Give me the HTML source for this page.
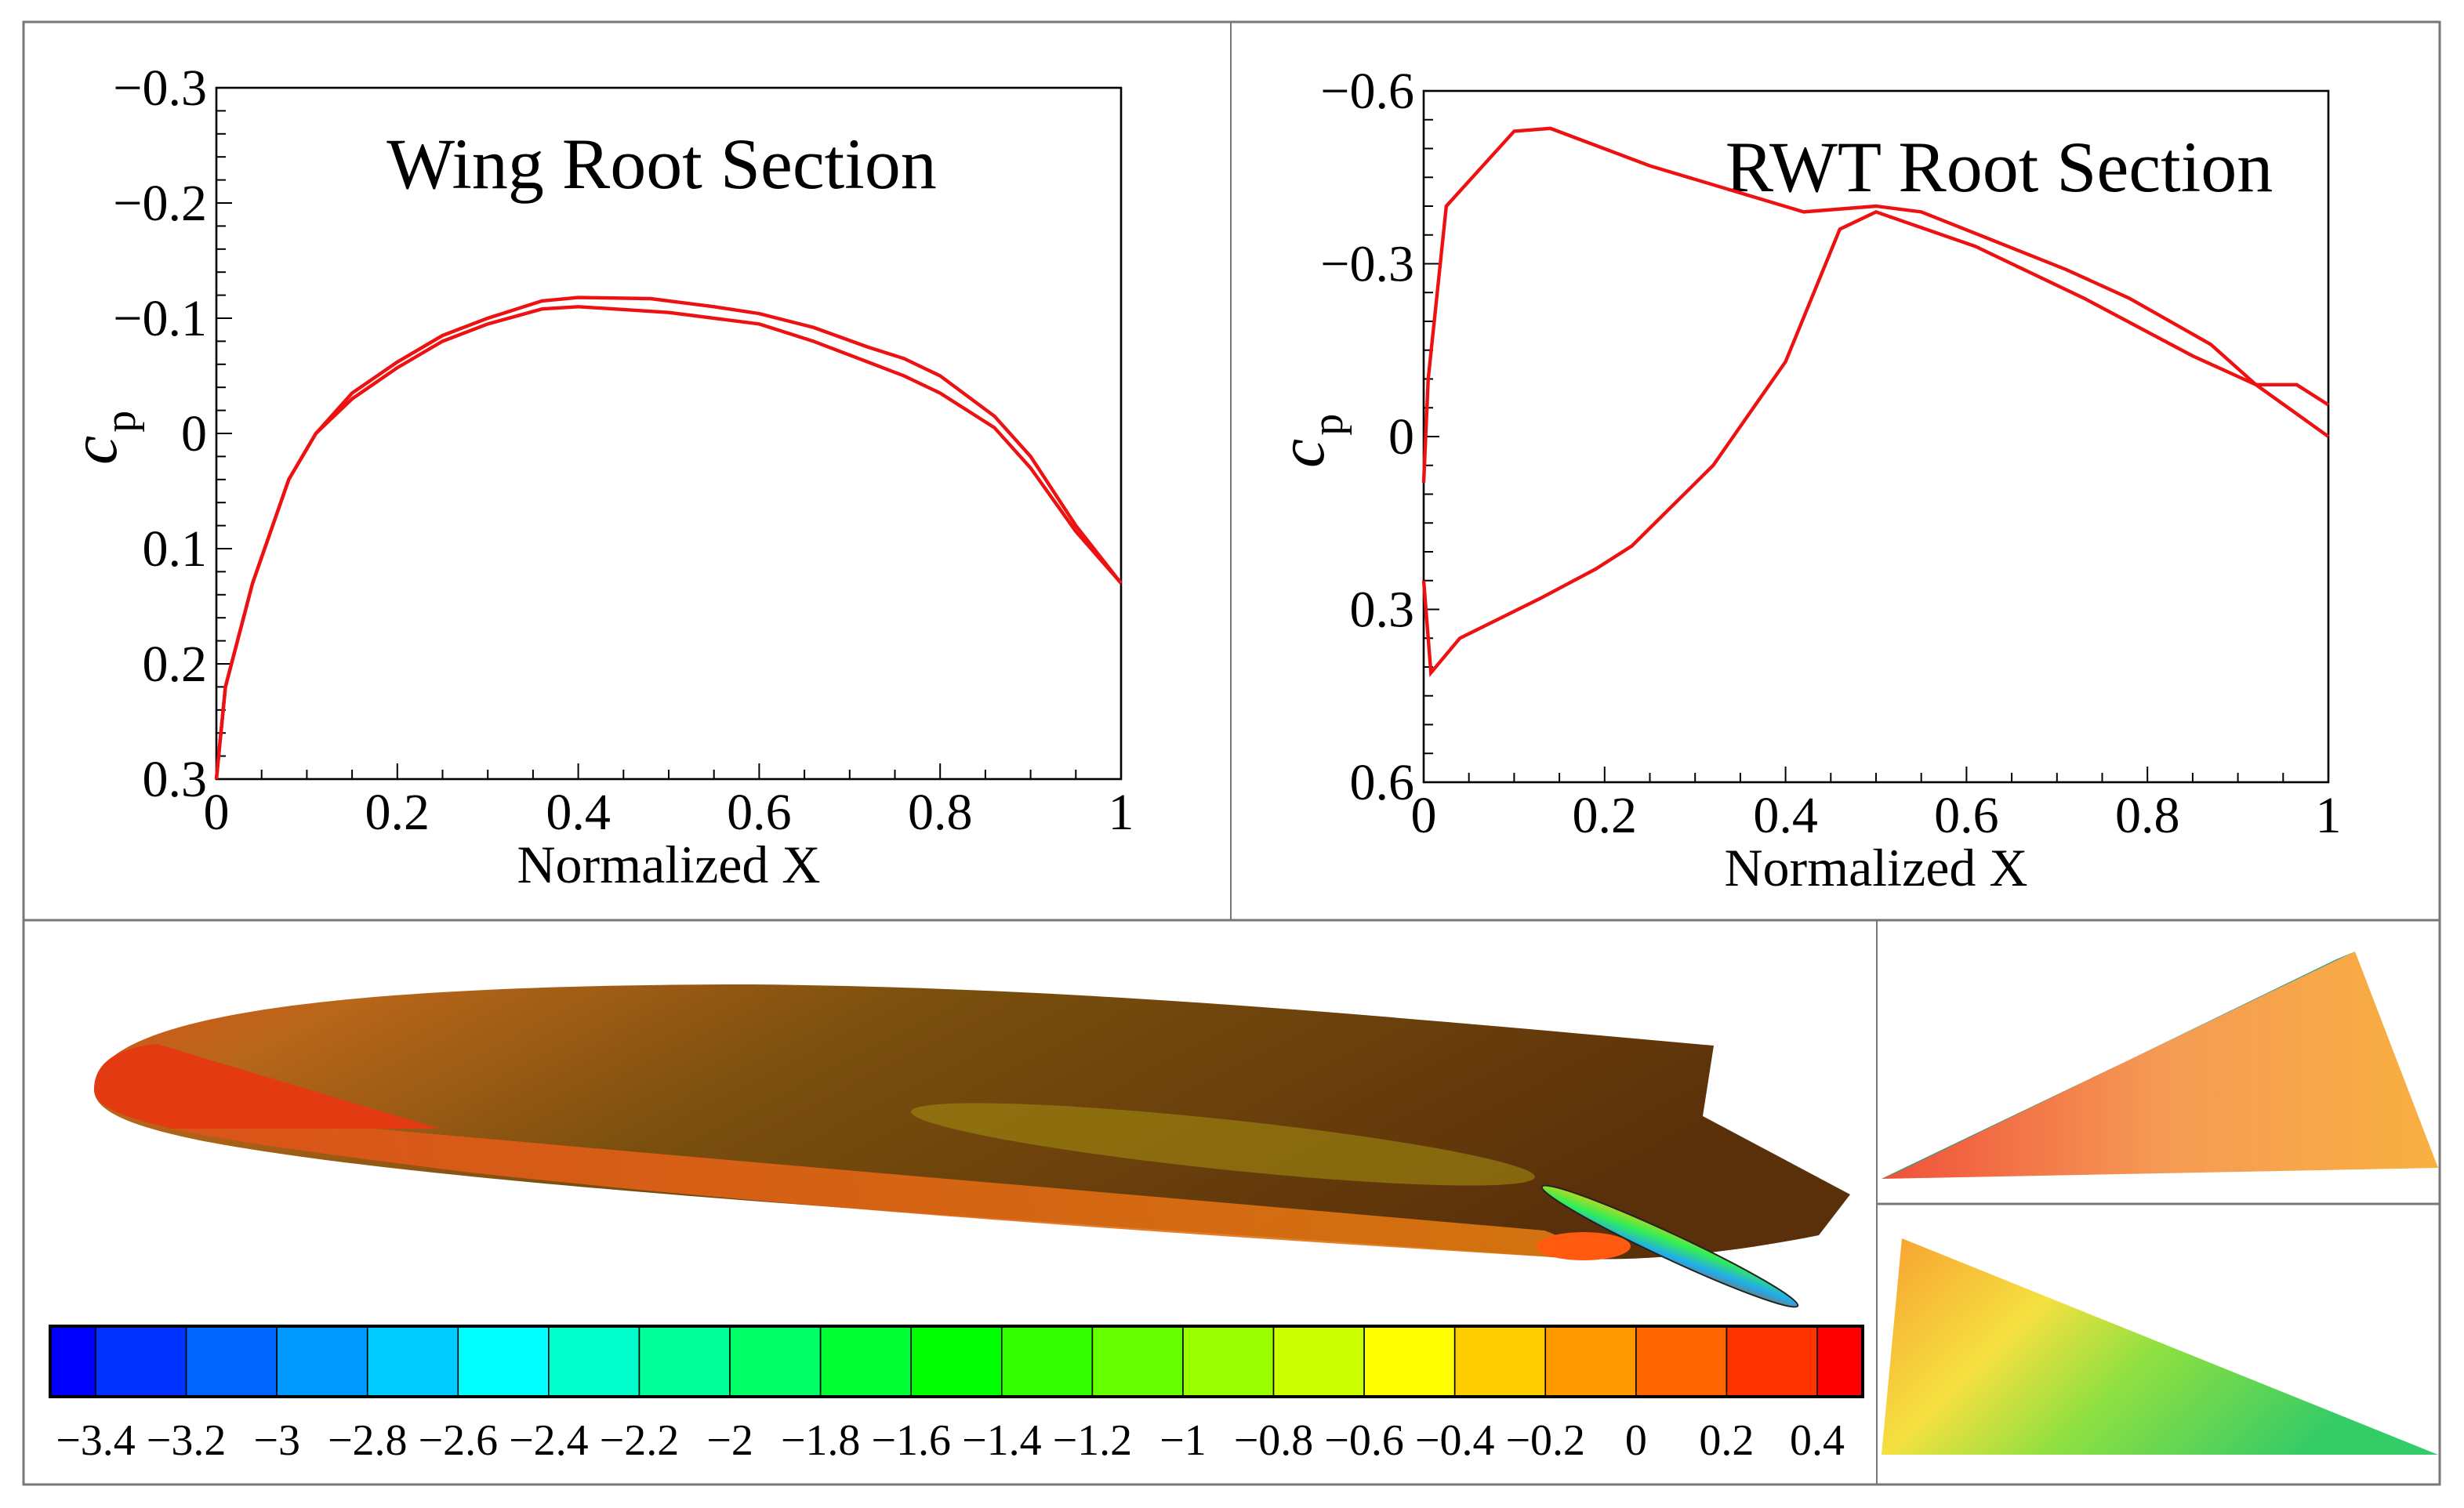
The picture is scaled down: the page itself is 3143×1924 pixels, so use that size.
<!DOCTYPE html>
<html><head><meta charset="utf-8"><style>
html,body{margin:0;padding:0;background:#fff}
svg{display:block}
text{font-family:"Liberation Serif",serif;fill:#000}
</style></head><body>
<svg id="fig" width="3143" height="1924" viewBox="0 0 1571.5 962">
<defs>
<linearGradient id="bodyG" x1="0" y1="0" x2="1" y2="0.3">
<stop offset="0" stop-color="#d8561a"/><stop offset="0.15" stop-color="#b8661a"/><stop offset="0.45" stop-color="#7a4f0e"/><stop offset="1" stop-color="#5a300a"/></linearGradient>
<linearGradient id="lowG" x1="0" y1="0" x2="1" y2="0"><stop offset="0" stop-color="#e0501a"/><stop offset="1" stop-color="#e07a10"/></linearGradient>
<linearGradient id="wingG" x1="0" y1="0" x2="1" y2="1"><stop offset="0" stop-color="#ffcc00"/><stop offset="0.4" stop-color="#33ee55"/><stop offset="0.7" stop-color="#22aaee"/><stop offset="1" stop-color="#996633"/></linearGradient>
<linearGradient id="t1G" x1="0" y1="0" x2="1" y2="0"><stop offset="0" stop-color="#f0503a"/><stop offset="0.5" stop-color="#f59a55"/><stop offset="1" stop-color="#f9b040"/></linearGradient>
<linearGradient id="t2G" x1="0" y1="0" x2="1" y2="0.4"><stop offset="0" stop-color="#f8a030"/><stop offset="0.35" stop-color="#f5e040"/><stop offset="0.6" stop-color="#8fe040"/><stop offset="1" stop-color="#33cc66"/></linearGradient>
</defs>
<rect x="0" y="0" width="1571.5" height="962" fill="#fff"/>
<g fill="none" stroke="#777" stroke-width="1.5">
<rect x="15" y="14" width="1541" height="933"/>
<line x1="15" y1="587" x2="1556" y2="587"/>
<line x1="785" y1="14" x2="785" y2="587" stroke-width="1"/>
<line x1="1197" y1="587" x2="1197" y2="947" stroke-width="1"/>
<line x1="1197" y1="768" x2="1556" y2="768"/>
</g>
<g id="left"></g>
<g id="right"></g>
<g>
<path d="M60,695 C60,650 200,628 480,628 C700,630 900,650 1093,667 L1086,712 L1180,762 L1160,788 C1100,800 1040,806 990,802 C700,780 300,760 130,728 C80,718 60,708 60,695 Z" fill="url(#bodyG)"/>
<path d="M62,702 C90,722 160,730 300,748 C550,775 800,790 990,802 C1000,795 1000,790 985,785 C700,760 400,735 150,712 Z" fill="url(#lowG)" opacity="0.9"/>
<path d="M60,695 C60,675 80,668 100,666 L280,720 L110,720 C75,712 60,705 60,695Z" fill="#e33a12"/>
<ellipse cx="780" cy="730" rx="200" ry="16" transform="rotate(6 780 730)" fill="#a08a10" opacity="0.6"/>
<ellipse cx="1010" cy="795" rx="30" ry="9" fill="#ff5a10"/>
<ellipse cx="1065" cy="795" rx="90" ry="8" transform="rotate(25 1065 795)" fill="url(#wingG)" stroke="#222" stroke-width="1"/>
</g>
<g id="cbar"></g>
<polygon points="1200,752 1502,607 1555,745" fill="url(#t1G)"/>
<polygon points="1200,752 1502,607 1490,612 1210,748" fill="#3a9a80"/>
<polygon points="1200,928 1213,790 1555,928" fill="url(#t2G)"/>
<script>
const NS="http://www.w3.org/2000/svg";
const wingX=[0,0.01,0.04,0.08,0.11,0.15,0.2,0.25,0.3,0.36,0.4,0.48,0.55,0.6,0.66,0.72,0.76,0.8,0.86,0.9,0.95,1];
const wingUpper=[0.3,0.22,0.13,0.04,0.0,-0.035,-0.062,-0.085,-0.1,-0.115,-0.118,-0.117,-0.11,-0.104,-0.092,-0.075,-0.065,-0.05,-0.015,0.02,0.08,0.13];
const wingLowerX=[0,0.01,0.04,0.08,0.11,0.15,0.2,0.25,0.3,0.36,0.4,0.5,0.6,0.66,0.72,0.76,0.8,0.86,0.9,0.95,1];
const wingLower=[0.3,0.22,0.13,0.04,0.0,-0.03,-0.057,-0.08,-0.095,-0.108,-0.11,-0.105,-0.095,-0.08,-0.062,-0.05,-0.035,-0.005,0.03,0.085,0.13];
const rwtUX=[0,0.005,0.025,0.1,0.14,0.25,0.42,0.5,0.55,0.71,0.78,0.87,0.92,1];
const rwtU=[0.08,-0.1,-0.4,-0.53,-0.535,-0.47,-0.39,-0.4,-0.39,-0.29,-0.24,-0.16,-0.09,0.0];
const rwtLX=[0,0.008,0.04,0.13,0.19,0.23,0.32,0.4,0.46,0.5,0.61,0.73,0.85,0.92,0.965,1];
const rwtL=[0.25,0.41,0.35,0.28,0.23,0.19,0.05,-0.13,-0.36,-0.39,-0.33,-0.24,-0.14,-0.09,-0.09,-0.055];
const xTicks=[0,0.2,0.4,0.6,0.8,1];
const xTickLabels=["0","0.2","0.4","0.6","0.8","1"];
const wingYTicks=[-0.3,-0.2,-0.1,0,0.1,0.2,0.3];
const wingYLabels=["\u22120.3","\u22120.2","\u22120.1","0","0.1","0.2","0.3"];
const rwtYTicks=[-0.6,-0.3,0,0.3,0.6];
const rwtYLabels=["\u22120.6","\u22120.3","0","0.3","0.6"];
const cbarLevels=[-3.4,-3.2,-3,-2.8,-2.6,-2.4,-2.2,-2,-1.8,-1.6,-1.4,-1.2,-1,-0.8,-0.6,-0.4,-0.2,0,0.2,0.4];
const cbarLabels=["\u22123.4","\u22123.2","\u22123","\u22122.8","\u22122.6","\u22122.4","\u22122.2","\u22122","\u22121.8","\u22121.6","\u22121.4","\u22121.2","\u22121","\u22120.8","\u22120.6","\u22120.4","\u22120.2","0","0.2","0.4"];
const cbarColors=["#0000ff","#0033ff","#0066ff","#0099ff","#00ccff","#00ffff","#00ffcc","#00ff99","#00ff66","#00ff33","#00ff00","#33ff00","#66ff00","#99ff00","#ccff00","#ffff00","#ffcc00","#ff9900","#ff6600","#ff3300","#ff0000"];

function el(tag,attrs,parent){const e=document.createElementNS(NS,tag);for(const k in attrs)e.setAttribute(k,attrs[k]);parent.appendChild(e);return e;}

function chart(g,box,ymin,ymax,yTicks,yLabels,minorStep,title,tx,series){
  const sx=v=>box.x0+(v-0)*(box.x1-box.x0);
  const sy=v=>box.y0+(v-ymin)/(ymax-ymin)*(box.y1-box.y0);
  const r=el('rect',{x:box.x0,y:box.y0,width:box.x1-box.x0,height:box.y1-box.y0,fill:'none',stroke:'#000','stroke-width':1.3},g);
  
  
  for(let v=0;v<=1.0001;v+=0.05){const major=Math.abs(v*5-Math.round(v*5))<1e-6;
    el('line',{x1:sx(v),x2:sx(v),y1:box.y1,y2:box.y1-(major?10:6),stroke:'#000','stroke-width':1},g);}
  for(let v=ymin;v<=ymax+1e-9;v+=minorStep){
    el('line',{x1:box.x0,x2:box.x0+6,y1:sy(v),y2:sy(v),stroke:'#000','stroke-width':1},g);}
  yTicks.forEach((v,i)=>{el('line',{x1:box.x0,x2:box.x0+10,y1:sy(v),y2:sy(v),stroke:'#000','stroke-width':1},g);
    const t=el('text',{x:box.x0-6,y:sy(v)+11,'text-anchor':'end','font-size':33},g);t.textContent=yLabels[i];
    
    });
  xTicks.forEach((v,i)=>{const t=el('text',{x:sx(v),y:box.y1+32,'text-anchor':'middle','font-size':33},g);t.textContent=xTickLabels[i];
    
    });
  const xl=el('text',{x:(box.x0+box.x1)/2,y:box.y1+66,'text-anchor':'middle','font-size':34},g);xl.textContent='Normalized X';
  
  
  const yl=el('text',{x:0,y:0,'font-size':42,'font-style':'italic',transform:`translate(${box.x0-64},${sy(0)+20}) rotate(-90)`},g);
  
  
  const c=el('tspan',{},yl);c.textContent='c';
  const p=el('tspan',{'font-size':28,'font-style':'normal',dx:2,dy:12},yl);p.textContent='p';
  const tt=el('text',{x:tx,y:box.y0+64,'text-anchor':'middle','font-size':46},g);tt.textContent=title;
  
  
  series.forEach(([xs,ys],k)=>{
    const pl=el('polyline',{points:xs.map((x,i)=>sx(x)+','+sy(ys[i])).join(' '),fill:'none',stroke:'#ee1111','stroke-width':2.2},g);
    
    
  });
}
chart(document.getElementById('left'),{x0:138,x1:715,y0:56,y1:497},-0.3,0.3,wingYTicks,wingYLabels,0.02,'Wing Root Section',422,[[wingX,wingUpper],[wingLowerX,wingLower]]);
chart(document.getElementById('right'),{x0:908,x1:1485,y0:58,y1:499},-0.6,0.6,rwtYTicks,rwtYLabels,0.05,'RWT Root Section',1275,[[rwtUX,rwtU],[rwtLX,rwtL]]);

const cb=document.getElementById('cbar');
const cx0=32,cx1=1188,cy0=846,cy1=891;
const lvlX=v=>61+(v-cbarLevels[0])/(cbarLevels[cbarLevels.length-1]-cbarLevels[0])*(1159-61);
cbarColors.forEach((c,i)=>{
  const a=i===0?cx0:lvlX(cbarLevels[i-1]);
  const b=i===cbarColors.length-1?cx1:lvlX(cbarLevels[i]);
  const r=el('rect',{x:a,y:cy0,width:b-a,height:cy1-cy0,fill:c,stroke:'#000','stroke-width':0.8},cb);
  
  
});
el('rect',{x:cx0,y:cy0,width:cx1-cx0,height:cy1-cy0,fill:'none',stroke:'#000','stroke-width':2},cb);
cbarLevels.forEach((v,i)=>{
  const t=el('text',{x:lvlX(v),y:928,'text-anchor':'middle','font-size':28},cb);t.textContent=cbarLabels[i];
  
  
});
</script>
</svg>
</body></html>
